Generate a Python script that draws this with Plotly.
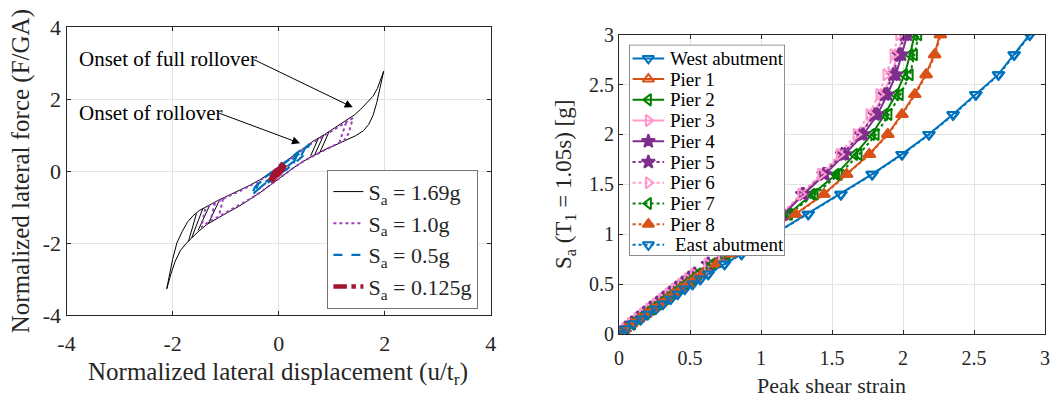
import plotly.graph_objects as go

# ---------------- Left panel: hysteresis loops (normalized) ----------------
BLK_X = [1.98, 1.92, 1.86, 1.78, 1.67, 1.55, 1.43, 1.25, 1.05, 0.85, 0.65, 0.45, 0.25, 0.05, -0.15, -0.35,
         -0.55, -0.75, -0.95, -1.15, -1.35, -1.50, -1.62, -1.72, -1.82, -1.92, -2.00, -2.06, -2.11,
         -2.03, -1.95, -1.85, -1.75, -1.64, -1.50, -1.35, -1.15, -0.95, -0.75, -0.55, -0.35, -0.15, 0.05,
         0.25, 0.45, 0.65, 0.85, 1.05, 1.25, 1.45, 1.60, 1.70, 1.78, 1.85, 1.91, 1.98,
         None, -1.43, -1.64, None, -1.30, -1.52, None, -1.12, -1.33, None, -1.55, -1.70,
         None, 0.95, 0.78, None, 0.85, 0.68, None, 0.75, 0.60]
BLK_Y = [2.77, 2.50, 2.29, 2.08, 1.90, 1.72, 1.56, 1.38, 1.18, 1.00, 0.83, 0.62, 0.40, 0.18, -0.04, -0.24,
         -0.40, -0.55, -0.68, -0.82, -0.97, -1.10, -1.25, -1.42, -1.68, -2.00, -2.45, -2.85, -3.27,
         -2.85, -2.50, -2.20, -2.02, -1.86, -1.66, -1.48, -1.30, -1.14, -0.98, -0.80, -0.60, -0.38, -0.15,
         0.06, 0.26, 0.43, 0.58, 0.71, 0.84, 0.98, 1.12, 1.30, 1.55, 1.90, 2.30, 2.77,
         None, -1.04, -1.86, None, -0.95, -1.65, None, -0.82, -1.47, None, -1.18, -1.95,
         None, 1.09, 0.53, None, 1.00, 0.46, None, 0.91, 0.41]

PUR_X = [1.40, 1.25, 1.05, 0.85, 0.65, 0.45, 0.25, 0.05, -0.15, -0.35, -0.55, -0.75, -0.95, -1.15, -1.30,
         -1.38, -1.46, -1.30, -1.10, -0.90, -0.70, -0.50, -0.30, -0.10, 0.10, 0.30, 0.50, 0.70, 0.90,
         1.10, 1.24, 1.32, 1.37, 1.40,
         None, 1.27, 1.15, None, -1.20, -1.28, None, -1.05, -1.12]
PUR_Y = [1.47, 1.34, 1.15, 0.97, 0.80, 0.59, 0.37, 0.15, -0.06, -0.26, -0.42, -0.57, -0.70, -0.84, -0.95,
         -1.02, -1.56, -1.40, -1.24, -1.08, -0.92, -0.74, -0.54, -0.32, -0.10, 0.11, 0.30, 0.46, 0.61,
         0.75, 0.86, 1.05, 1.30, 1.47,
         None, 1.34, 0.81, None, -0.88, -1.35, None, -0.77, -1.22]

BLU_X = [0.00, 0.15, 0.30, 0.45, 0.58, 0.50, 0.35, 0.15, -0.05, -0.25, -0.40, -0.52, -0.45, -0.30, -0.10,
         0.10, 0.30, 0.45, 0.52, 0.42, 0.25, 0.05, -0.15, -0.35, -0.45, -0.38, -0.20, 0.00, 0.20, 0.35,
         0.28, 0.10, -0.10, -0.25]
BLU_Y = [0.00, 0.20, 0.38, 0.55, 0.75, 0.48, 0.28, 0.05, -0.15, -0.38, -0.52, -0.70, -0.45, -0.22, 0.00,
         0.22, 0.45, 0.62, 0.70, 0.42, 0.22, 0.00, -0.22, -0.45, -0.58, -0.35, -0.12, 0.10, 0.32, 0.45,
         0.22, 0.05, -0.15, -0.30]

RED_X = [-0.16, -0.12, -0.05, 0.03, 0.10, 0.13, 0.10, 0.04, -0.04, -0.12, -0.16, -0.10, -0.02, 0.06,
         0.10, 0.06, -0.02, -0.10]
RED_Y = [-0.28, -0.12, 0.02, 0.15, 0.24, 0.22, 0.10, -0.03, -0.16, -0.27, -0.28, -0.14, 0.00, 0.13,
         0.18, 0.05, -0.10, -0.22]

LEFT_TICKS = [-4, -2, 0, 2, 4]
LEFT_TICKTEXT = ["-4", "-2", "0", "2", "4"]

# ---------------- Right panel: peak shear strain vs Sa ----------------
SA = [0, 0.05, 0.1, 0.15, 0.2, 0.25, 0.3, 0.35, 0.4, 0.45, 0.5, 0.55, 0.6, 0.7, 0.8, 0.9, 1.0,
      1.2, 1.4, 1.6, 1.8, 2.0, 2.2, 2.4, 2.6, 2.8, 3.0]
WEST = [0, 0.05, 0.10, 0.15, 0.205, 0.255, 0.31, 0.36, 0.41, 0.46, 0.515, 0.57, 0.625, 0.74, 0.86, 0.975,
        1.095, 1.33, 1.56, 1.78, 1.99, 2.18, 2.35, 2.51, 2.67, 2.78, 2.89]
PIER1 = [0, 0.045, 0.09, 0.14, 0.19, 0.24, 0.29, 0.335, 0.385, 0.43, 0.48, 0.53, 0.58, 0.68, 0.785, 0.895,
         1.01, 1.24, 1.44, 1.60, 1.76, 1.89, 1.99, 2.08, 2.16, 2.22, 2.26]
PIER2 = [0, 0.045, 0.09, 0.135, 0.18, 0.23, 0.275, 0.325, 0.37, 0.415, 0.46, 0.51, 0.555, 0.655, 0.755, 0.86,
         0.965, 1.19, 1.36, 1.53, 1.66, 1.78, 1.87, 1.95, 2.01, 2.05, 2.08]
PIER3 = [0, 0.04, 0.085, 0.13, 0.17, 0.215, 0.26, 0.305, 0.35, 0.395, 0.44, 0.485, 0.53, 0.625, 0.725, 0.83,
         0.935, 1.15, 1.29, 1.43, 1.57, 1.70, 1.79, 1.86, 1.92, 1.96, 2.00]
PIER4 = [0, 0.04, 0.085, 0.13, 0.175, 0.22, 0.265, 0.31, 0.355, 0.40, 0.445, 0.49, 0.535, 0.63, 0.73, 0.835,
         0.94, 1.16, 1.30, 1.45, 1.59, 1.72, 1.82, 1.89, 1.95, 1.99, 2.03]
PIER5 = [0, 0.04, 0.085, 0.125, 0.17, 0.215, 0.26, 0.305, 0.35, 0.395, 0.44, 0.485, 0.53, 0.625, 0.725, 0.83,
         0.935, 1.15, 1.29, 1.44, 1.57, 1.70, 1.80, 1.87, 1.93, 1.97, 2.01]
PIER6 = [0, 0.04, 0.08, 0.125, 0.165, 0.21, 0.255, 0.30, 0.345, 0.39, 0.435, 0.48, 0.525, 0.62, 0.72, 0.825,
         0.93, 1.14, 1.28, 1.42, 1.55, 1.67, 1.76, 1.83, 1.88, 1.93, 1.97]
PIER7 = [0, 0.045, 0.09, 0.135, 0.185, 0.23, 0.28, 0.325, 0.375, 0.42, 0.465, 0.515, 0.56, 0.66, 0.76, 0.865,
         0.97, 1.20, 1.38, 1.55, 1.69, 1.81, 1.90, 1.98, 2.05, 2.08, 2.11]
PIER8 = [0, 0.045, 0.09, 0.14, 0.19, 0.24, 0.29, 0.34, 0.385, 0.435, 0.485, 0.535, 0.585, 0.685, 0.79, 0.90,
         1.015, 1.245, 1.445, 1.605, 1.765, 1.895, 1.995, 2.085, 2.165, 2.225, 2.265]
EAST = [0, 0.05, 0.10, 0.155, 0.205, 0.26, 0.31, 0.365, 0.415, 0.465, 0.52, 0.575, 0.63, 0.745, 0.865, 0.98,
        1.10, 1.335, 1.565, 1.785, 1.995, 2.185, 2.355, 2.515, 2.675, 2.785, 2.895]
SERIES_NAMES = ["West abutment", "Pier 1", "Pier 2", "Pier 3", "Pier 4", "Pier 5", "Pier 6", "Pier 7",
                "Pier 8", " East abutment"]
RIGHT_TICKS = [0, 0.5, 1, 1.5, 2, 2.5, 3]
RIGHT_TICKTEXT = ["0", "0.5", "1", "1.5", "2", "2.5", "3"]

FONT = "Liberation Serif, Times New Roman, serif"
AXC = "#262626"
GRID = "#e3e3e3"
W, H = 1052, 400

fig = go.Figure()

# left traces
fig.add_trace(go.Scatter(x=BLK_X, y=BLK_Y, mode="lines", name="S<sub>a</sub> = 1.69g",
                         line=dict(color="black", width=1), xaxis="x", yaxis="y", legend="legend",
                         connectgaps=False))
fig.add_trace(go.Scatter(x=PUR_X, y=PUR_Y, mode="lines", name="S<sub>a</sub> = 1.0g",
                         line=dict(color="#9b3fc0", width=2, dash="dot"), xaxis="x", yaxis="y",
                         legend="legend"))
fig.add_trace(go.Scatter(x=BLU_X, y=BLU_Y, mode="lines", name="S<sub>a</sub> = 0.5g",
                         line=dict(color="#0072BD", width=2.2, dash="dash"), xaxis="x", yaxis="y",
                         legend="legend"))
fig.add_trace(go.Scatter(x=RED_X, y=RED_Y, mode="lines", name="S<sub>a</sub> = 0.125g",
                         line=dict(color="#A2142F", width=4.5, dash="dashdot"), xaxis="x", yaxis="y",
                         legend="legend"))

# right traces
styles = [
    ("#0072BD", "solid", "triangle-down-open"),
    ("#D95319", "solid", "triangle-up-open"),
    ("#008000", "solid", "triangle-left-open"),
    ("#FF99CC", "solid", "triangle-right-open"),
    ("#7E2F8E", "solid", "star"),
    ("#7E2F8E", "dot", "star"),
    ("#FF99CC", "dot", "triangle-right-open"),
    ("#008000", "dot", "triangle-left-open"),
    ("#D95319", "dot", "triangle-up"),
    ("#0072BD", "dot", "triangle-down-open"),
]
values = [WEST, PIER1, PIER2, PIER3, PIER4, PIER5, PIER6, PIER7, PIER8, EAST]
for name, vals, (col, dash, sym) in zip(SERIES_NAMES, values, styles):
    fig.add_trace(go.Scatter(
        x=vals, y=SA, mode="lines+markers", name=name.strip(),
        line=dict(color=col, width=2, dash=dash),
        marker=dict(symbol=sym, size=10, color=col, line=dict(color=col, width=2)),
        xaxis="x2", yaxis="y2", showlegend=False))

# custom legend for right panel (drawn on an overlay subplot in pixel units)
LX0, LX1, LY0, LY1 = 628.6, 786.4, 35.0, 260.0
ITEM_Y0, ITEM_DY = 49.5, 22.1
SAMPLE_X = [632, 648, 664]
TEXT_X = 667.5
fig.add_trace(go.Scatter(x=[LX0, LX1, LX1, LX0, LX0], y=[LY0, LY0, LY1, LY1, LY0], mode="lines",
                         fill="toself", fillcolor="white", line=dict(color="#333333", width=1),
                         xaxis="x3", yaxis="y3", showlegend=False, hoverinfo="skip"))
for i, (col, dash, sym) in enumerate(styles):
    yi = ITEM_Y0 + i * ITEM_DY
    fig.add_trace(go.Scatter(x=[SAMPLE_X[0], SAMPLE_X[2]], y=[yi, yi], mode="lines",
                             line=dict(color=col, width=2, dash=dash), xaxis="x3", yaxis="y3",
                             showlegend=False, hoverinfo="skip"))
    fig.add_trace(go.Scatter(x=[SAMPLE_X[1]], y=[yi], mode="markers",
                             marker=dict(symbol=sym, size=10, color=col, line=dict(color=col, width=2)),
                             xaxis="x3", yaxis="y3", showlegend=False, hoverinfo="skip"))

axis_common = dict(showline=True, linecolor=AXC, linewidth=1, mirror="ticks", ticks="inside",
                   ticklen=4, tickcolor=AXC, showgrid=True, gridcolor=GRID, gridwidth=1,
                   zeroline=False)

fig.update_layout(
    width=W, height=H, margin=dict(l=0, r=0, t=0, b=0),
    paper_bgcolor="white", plot_bgcolor="white",
    font=dict(family=FONT, color="black"),
    xaxis=dict(domain=[58.3 / W, 488.3 / W], range=[-4, 4], tickvals=LEFT_TICKS,
               ticktext=LEFT_TICKTEXT, tickfont=dict(size=22, family=FONT, color="#262626"),
               ticklabelstandoff=9, anchor="y", **axis_common),
    yaxis=dict(domain=[1 - 323.3 / H, 1 - 16 / H], range=[-4, 4], tickvals=LEFT_TICKS,
               ticktext=LEFT_TICKTEXT, tickfont=dict(size=22, family=FONT, color="#262626"),
               anchor="x", **axis_common),
    xaxis2=dict(domain=[618.3 / W, 1050 / W], range=[0, 3], tickvals=RIGHT_TICKS,
                ticktext=RIGHT_TICKTEXT, tickfont=dict(size=20, family=FONT, color="#262626"),
                ticklabelstandoff=6, anchor="y2", **axis_common),
    yaxis2=dict(domain=[1 - 343.3 / H, 1 - 24.3 / H], range=[0, 3], tickvals=RIGHT_TICKS,
                ticktext=RIGHT_TICKTEXT, tickfont=dict(size=20, family=FONT, color="#262626"),
                anchor="x2", **axis_common),
    xaxis3=dict(domain=[LX0 / W, LX1 / W], range=[LX0, LX1], visible=False, anchor="y3"),
    yaxis3=dict(domain=[1 - LY1 / H, 1 - LY0 / H], range=[LY1, LY0], visible=False, anchor="x3"),
    legend=dict(x=322.7 / W, y=1 - 168.3 / H, xanchor="left", yanchor="top",
                bgcolor="white", bordercolor="#777777", borderwidth=1,
                font=dict(size=22, family=FONT, color="#262626"), tracegroupgap=0),
    showlegend=True,
)

annotations = [
    dict(x=-3.81, y=3.115, xref="x", yref="y", text="Onset of full rollover", showarrow=False,
         xanchor="left", yanchor="middle", font=dict(size=21, family=FONT, color="black")),
    dict(x=-3.81, y=1.60, xref="x", yref="y", text="Onset of rollover", showarrow=False,
         xanchor="left", yanchor="middle", font=dict(size=21, family=FONT, color="black")),
    dict(x=1.396, y=1.77, ax=-0.495, ay=3.115, xref="x", yref="y", axref="x", ayref="y", text="",
         showarrow=True, arrowhead=2, arrowsize=1.6, arrowwidth=1, arrowcolor="black"),
    dict(x=0.404, y=0.77, ax=-1.146, ay=1.62, xref="x", yref="y", axref="x", ayref="y", text="",
         showarrow=True, arrowhead=2, arrowsize=1.6, arrowwidth=1, arrowcolor="black"),
    dict(x=13 / W, y=1 - 170 / H, xref="paper", yref="paper", text="Normalized lateral force (F/GA)",
         textangle=-90, showarrow=False, xanchor="center", yanchor="middle",
         font=dict(size=25, family=FONT, color="#262626")),
    dict(x=273 / W, y=1 - 386 / H, xref="paper", yref="paper",
         text="Normalized lateral displacement (u/t<sub>r</sub>)",
         showarrow=False, xanchor="center", yanchor="middle",
         font=dict(size=25, family=FONT, color="#262626")),
    dict(x=563 / W, y=1 - 184 / H, xref="paper", yref="paper",
         text="S<sub>a</sub> (T<sub>1</sub> = 1.05s) [g]", textangle=-90, showarrow=False,
         xanchor="center", yanchor="middle", font=dict(size=23, family=FONT, color="#262626")),
    dict(x=834 / W, y=1 - 398 / H, xref="paper", yref="paper", text="Peak shear strain",
         showarrow=False, xanchor="center", yanchor="middle",
         font=dict(size=22, family=FONT, color="#262626")),
]
for i, name in enumerate(SERIES_NAMES):
    yi = ITEM_Y0 + i * ITEM_DY
    annotations.append(dict(x=TEXT_X + (5 if name.startswith(" ") else 0), y=yi, xref="x3", yref="y3",
                            text=name.strip(), showarrow=False, xanchor="left", yanchor="middle",
                            font=dict(size=19, family=FONT, color="black")))
fig.update_layout(annotations=annotations)

fig.write_html("out.html")
